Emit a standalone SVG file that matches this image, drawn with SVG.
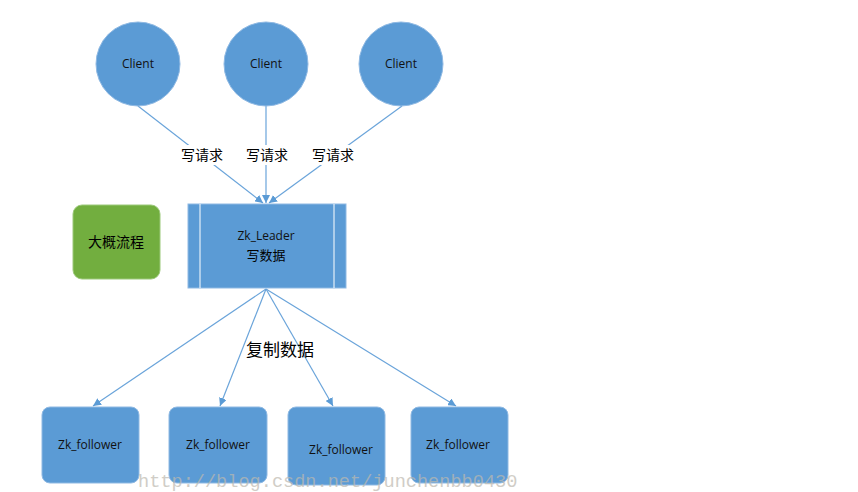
<svg xmlns="http://www.w3.org/2000/svg" width="858" height="492" viewBox="0 0 858 492">
<defs>
<marker id="ah" viewBox="0 0 10 10" refX="10" refY="5" markerWidth="8" markerHeight="8" markerUnits="userSpaceOnUse" orient="auto">
<path d="M0,0 L10,5 L0,10 z" fill="#5b9bd5"/>
</marker>
<style>
.lbl{font-family:"Open Sans","Liberation Sans",sans-serif;font-size:12px;fill:#111;text-anchor:middle}
.cjk{font-family:"Noto Sans CJK SC","Liberation Sans",sans-serif;fill:#000;text-anchor:middle}
.node{fill:#5b9bd5;stroke:#8fb9e3;stroke-width:1}
.conn{stroke:#6aa4da;stroke-width:1.2;fill:none;marker-end:url(#ah)}
</style>
</defs>
<rect width="858" height="492" fill="#fff"/>
<g id="connectors">
<line class="conn" x1="138" y1="106" x2="263" y2="203"/>
<line class="conn" x1="266" y1="106" x2="266" y2="203"/>
<line class="conn" x1="402" y1="106" x2="269" y2="203"/>
<line class="conn" x1="266" y1="289" x2="93" y2="406"/>
<line class="conn" x1="266" y1="289" x2="220" y2="406"/>
<line class="conn" x1="266" y1="289" x2="333" y2="406"/>
<line class="conn" x1="266" y1="289" x2="456" y2="406"/>
</g>
<g id="labels">
<rect x="178" y="145" width="48" height="20" fill="#fff"/>
<rect x="243" y="145" width="48" height="20" fill="#fff"/>
<rect x="309" y="145" width="48" height="20" fill="#fff"/>
<text class="cjk" x="202" y="160" font-size="14">写请求</text>
<text class="cjk" x="267" y="160" font-size="14">写请求</text>
<text class="cjk" x="333" y="160" font-size="14">写请求</text>
<text class="cjk" x="280" y="356" font-size="17">复制数据</text>
</g>
<g id="client1"><circle class="node" cx="138" cy="64" r="42"/><text class="lbl" x="138" y="68">Client</text></g>
<g id="client2"><circle class="node" cx="266" cy="64" r="42"/><text class="lbl" x="266" y="68">Client</text></g>
<g id="client3"><circle class="node" cx="401" cy="64" r="42"/><text class="lbl" x="401" y="68">Client</text></g>
<g id="leader">
<rect class="node" x="188" y="204" width="158" height="84"/>
<line x1="200" y1="204" x2="200" y2="288" stroke="#ffffff" stroke-width="1"/>
<line x1="334" y1="204" x2="334" y2="288" stroke="#ffffff" stroke-width="1"/>
<text class="lbl" x="266" y="240">Zk_Leader</text>
<text class="cjk" x="266" y="260" font-size="13">写数据</text>
</g>
<g id="overview">
<rect x="73" y="205" width="87" height="74" rx="9" fill="#72ae3f" stroke="#9cc97a" stroke-width="1"/>
<text class="cjk" x="116" y="247" font-size="14">大概流程</text>
</g>
<g id="follower1"><rect class="node" x="42" y="407" width="97" height="76" rx="8"/><text class="lbl" x="90" y="449">Zk_follower</text></g>
<g id="follower2"><rect class="node" x="169" y="407" width="98" height="76" rx="8"/><text class="lbl" x="218" y="449">Zk_follower</text></g>
<g id="follower3"><rect class="node" x="288" y="407" width="97" height="78" rx="8"/><text class="lbl" x="341" y="454">Zk_follower</text></g>
<g id="follower4"><rect class="node" x="411" y="407" width="97" height="76" rx="8"/><text class="lbl" x="458" y="449">Zk_follower</text></g>
<text x="138" y="487" font-family="Liberation Mono,monospace" font-size="18.6" fill="#bdb9b0" opacity="0.7">http://blog.csdn.net/junchenbb0430</text>
</svg>
